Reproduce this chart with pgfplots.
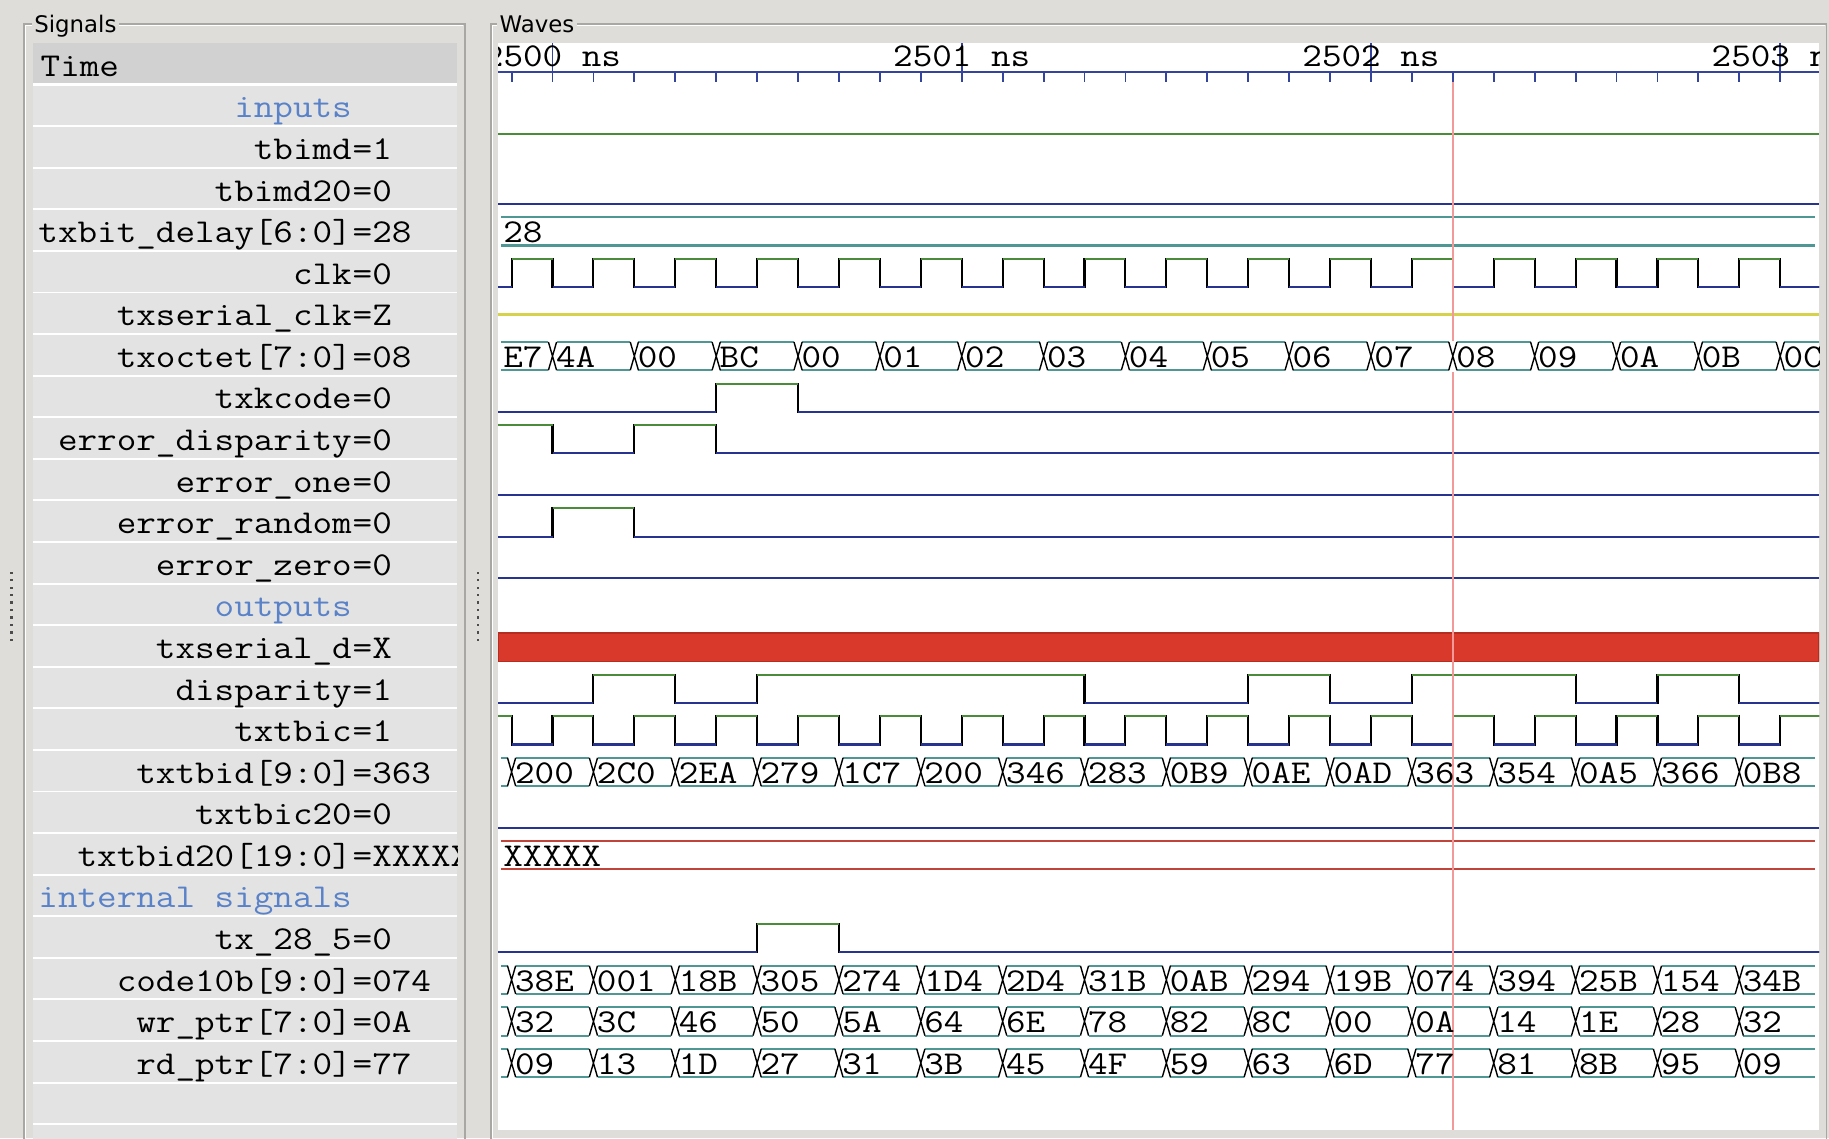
\documentclass[border=0pt]{standalone}
\usepackage{fontspec}
\usepackage{graphicx}
\usepackage{pgfplots}
\pgfplotsset{compat=1.18}
\newfontfamily\uisans{DejaVu Sans}

\definecolor{panelbg}{HTML}{DFDDD9}
\definecolor{rowbg}{HTML}{E3E3E3}
\definecolor{headbg}{HTML}{D1D1D1}
\definecolor{framec}{HTML}{A9A7A3}
\definecolor{grpblue}{HTML}{5A82C8}
\definecolor{hi}{HTML}{4A8C3A}
\definecolor{lo}{HTML}{26348F}
\definecolor{bus}{HTML}{4F9794}
\definecolor{xfill}{HTML}{D9392A}
\definecolor{xedge}{HTML}{B52C20}
\definecolor{xbus}{HTML}{C0443A}
\definecolor{zline}{HTML}{D6D24C}
\definecolor{ruler}{HTML}{34449C}
\definecolor{cursorc}{HTML}{F29A9A}

% monospaced wave font, widened to the gtkwave cell
\newcommand\wt[1]{\scalebox{1.14}[1]{\fontsize{14.3}{17}\selectfont\ttfamily #1}}

% bus crossing: blank the bus lines, then draw the X
\pgfdeclareplotmark{busx}{%
  \pgfpathrectangle{\pgfpoint{-1.75pt}{-6.6pt}}{\pgfpoint{3.5pt}{13.2pt}}%
  \pgfsetfillcolor{white}\pgfusepath{fill}%
  \pgfsetstrokecolor{black}%
  \pgfpathmoveto{\pgfpoint{-1.75pt}{6.06pt}}\pgfpathlineto{\pgfpoint{1.75pt}{-6.06pt}}%
  \pgfpathmoveto{\pgfpoint{-1.75pt}{-6.06pt}}\pgfpathlineto{\pgfpoint{1.75pt}{6.06pt}}%
  \pgfusepathqstroke}

\pgfplotsset{
  wave/.style={line width=0.9pt},
  busline/.style={bus, line width=0.9pt},
  buslab/.style={black, nodes near coords={\wt{\pgfplotspointmeta}},
    point meta=explicit symbolic,
    nodes near coords style={anchor=base west, inner sep=0pt, xshift=1.2pt, yshift=-4.8pt, text=black}},
  busmarks/.style={buslab, only marks, mark=busx, mark options={line width=0.6pt}},
}

% bus values: time of change, lane, new value
\pgfplotstableread{
t y lab
2500.0 6.98 4A
2500.2 6.98 00
2500.4 6.98 BC
2500.6 6.98 00
2500.8 6.98 01
2501.0 6.98 02
2501.2 6.98 03
2501.4 6.98 04
2501.6 6.98 05
2501.8 6.98 06
2502.0 6.98 07
2502.2 6.98 08
2502.4 6.98 09
2502.6 6.98 0A
2502.8 6.98 0B
2503.0 6.98 0C
}\txoctet

\pgfplotstableread{
t y lab
2499.9 16.98 200
2500.1 16.98 2C0
2500.3 16.98 2EA
2500.5 16.98 279
2500.7 16.98 1C7
2500.9 16.98 200
2501.1 16.98 346
2501.3 16.98 283
2501.5 16.98 0B9
2501.7 16.98 0AE
2501.9 16.98 0AD
2502.1 16.98 363
2502.3 16.98 354
2502.5 16.98 0A5
2502.7 16.98 366
2502.9 16.98 0B8
}\txtbid

\pgfplotstableread{
t y lab
2499.9 21.98 38E
2500.1 21.98 001
2500.3 21.98 18B
2500.5 21.98 305
2500.7 21.98 274
2500.9 21.98 1D4
2501.1 21.98 2D4
2501.3 21.98 31B
2501.5 21.98 0AB
2501.7 21.98 294
2501.9 21.98 19B
2502.1 21.98 074
2502.3 21.98 394
2502.5 21.98 25B
2502.7 21.98 154
2502.9 21.98 34B
}\codeb

\pgfplotstableread{
t y lab
2499.9 22.98 32
2500.1 22.98 3C
2500.3 22.98 46
2500.5 22.98 50
2500.7 22.98 5A
2500.9 22.98 64
2501.1 22.98 6E
2501.3 22.98 78
2501.5 22.98 82
2501.7 22.98 8C
2501.9 22.98 00
2502.1 22.98 0A
2502.3 22.98 14
2502.5 22.98 1E
2502.7 22.98 28
2502.9 22.98 32
}\wrptr

\pgfplotstableread{
t y lab
2499.9 23.98 09
2500.1 23.98 13
2500.3 23.98 1D
2500.5 23.98 27
2500.7 23.98 31
2500.9 23.98 3B
2501.1 23.98 45
2501.3 23.98 4F
2501.5 23.98 59
2501.7 23.98 63
2501.9 23.98 6D
2502.1 23.98 77
2502.3 23.98 81
2502.5 23.98 8B
2502.7 23.98 95
2502.9 23.98 09
}\rdptr

\newcommand\sig[3]{%
  \node[anchor=base east, inner sep=0pt] at (302,{56.45+35.65*(#1+0.25)}) {\wt{#2}};
  \node[anchor=base west, inner sep=0pt] at (302,{56.45+35.65*(#1+0.25)}) {\wt{=#3}};}
\newcommand\grp[2]{%
  \node[anchor=base east, inner sep=0pt, text=grpblue] at (302,{56.45+35.65*(#1+0.25)}) {\wt{#2}};}

\begin{document}
\begin{tikzpicture}
\begin{scope}[x=0.5pt, y=-0.5pt]
  \fill[panelbg] (0,0) rectangle (1568,976);
  % frames
  \draw[framec, line width=0.6pt] (20.5,990) -- (20.5,20.6) -- (398.5,20.6) -- (398.5,990);
  \draw[white, line width=0.6pt] (21.8,990) -- (21.8,21.9) -- (397.2,21.9);
  \draw[framec, line width=0.6pt] (421,990) -- (421,20.6) -- (1566,20.6) -- (1566,990);
  \draw[white, line width=0.6pt] (422.3,990) -- (422.3,21.9) -- (1564.7,21.9);
  \node[anchor=base west, fill=panelbg, inner xsep=1pt, inner ysep=1pt, font=\uisans\fontsize{9.8}{11}\selectfont] at (27,28) {Signals};
  \node[anchor=base west, fill=panelbg, inner xsep=1pt, inner ysep=1pt, font=\uisans\fontsize{9.8}{11}\selectfont] at (426,28) {Waves};
  % splitter handles
  \foreach \k in {0,...,9} {
    \fill[black!70] (9,{490+6.4*\k}) rectangle (11,{492+6.4*\k});
    \fill[black!70] (408.5,{490+6.4*\k}) rectangle (410.5,{492+6.4*\k});
  }
  % signal list
  \fill[white] (28,37.2) rectangle (392,990);
  \fill[headbg] (28,37.2) rectangle (392,71.2);
  \foreach \r in {1,...,26}
    \fill[rowbg] (28,{56.45+35.65*(\r-0.55)+0.8}) rectangle (392,{56.45+35.65*(\r+0.45)-0.8});
  \begin{scope}
    \clip (28,37.2) rectangle (392,976);
    \node[anchor=base west, inner sep=0pt] at (34.5,{56.45+35.65*0.25}) {\wt{Time}};
    \grp{1}{inputs}
    \sig{2}{tbimd}{1}
    \sig{3}{tbimd20}{0}
    \sig{4}{txbit\_delay[6:0]}{28}
    \sig{5}{clk}{0}
    \sig{6}{txserial\_clk}{Z}
    \sig{7}{txoctet[7:0]}{08}
    \sig{8}{txkcode}{0}
    \sig{9}{error\_disparity}{0}
    \sig{10}{error\_one}{0}
    \sig{11}{error\_random}{0}
    \sig{12}{error\_zero}{0}
    \grp{13}{outputs}
    \sig{14}{txserial\_d}{X}
    \sig{15}{disparity}{1}
    \sig{16}{txtbic}{1}
    \sig{17}{txtbid[9:0]}{363}
    \sig{18}{txtbic20}{0}
    \sig{19}{txtbid20[19:0]}{XXXXX}
    \grp{20}{internal signals}
    \sig{21}{tx\_28\_5}{0}
    \sig{22}{code10b[9:0]}{074}
    \sig{23}{wr\_ptr[7:0]}{0A}
    \sig{24}{rd\_ptr[7:0]}{77}
  \end{scope}
  % wave area
  \fill[white] (427,37.2) rectangle (1559.5,968.7);
\end{scope}

\begin{scope}
\clip (213.5pt,-18.6pt) rectangle (779.75pt,-484.35pt);
\begin{axis}[
  at={(213.5pt,-18.6pt)}, anchor=north west,
  scale only axis, width=566.25pt, height=465.75pt,
  xmin=2499.867, xmax=2503.095,
  ymin=-0.54, ymax=25.59, y dir=reverse,
  axis line style={draw=none},
  ytick=\empty,
  xtick={2500,2501,2502,2503},
  xticklabels={\wt{2500 ns},\wt{2501 ns},\wt{2502 ns},\wt{2503 ns}},
  minor xtick={2499.9,2500,...,2503},
  xtick pos=right, xticklabel pos=right,
  tick align=inside,
  major tick length=16.4pt,
  minor tick length=4.3pt,
  tick style={ruler, line width=0.8pt},
  minor tick style={yshift=-12.1pt},
  xticklabel style={anchor=base, yshift=-9.98pt, inner sep=0pt},
  unbounded coords=jump,
]
% time ruler
\addplot[ruler, line width=0.8pt] coordinates {(2499.867,0.14) (2503.095,0.14)};

% tbimd = 1, tbimd20 = 0
\addplot[wave, hi] coordinates {(2499.867,1.64) (2503.095,1.64)};
\addplot[wave, lo] coordinates {(2499.867,3.32) (2503.095,3.32)};

% txbit_delay[6:0] = 28
\addplot[busline] coordinates {(2499.875,3.64) (2503.085,3.64) (2503.085,nan) (2499.875,4.32) (2503.085,4.32)};
\addplot[buslab, draw=none] coordinates {(2499.872,3.98) [28]};

% clk
\addplot[wave, black, const plot] coordinates {
  (2499.867,5.32) (2499.9,4.64) (2500.0,5.32) (2500.1,4.64) (2500.2,5.32) (2500.3,4.64)
  (2500.4,5.32) (2500.5,4.64) (2500.6,5.32) (2500.7,4.64) (2500.8,5.32) (2500.9,4.64)
  (2501.0,5.32) (2501.1,4.64) (2501.2,5.32) (2501.3,4.64) (2501.4,5.32) (2501.5,4.64)
  (2501.6,5.32) (2501.7,4.64) (2501.8,5.32) (2501.9,4.64) (2502.0,5.32) (2502.1,4.64)
  (2502.2,5.32) (2502.3,4.64) (2502.4,5.32) (2502.5,4.64) (2502.6,5.32) (2502.7,4.64)
  (2502.8,5.32) (2502.9,4.64) (2503.0,5.32) (2503.1,5.32)};
\addplot[wave, hi] coordinates {
  (2499.9,4.64) (2500.0,4.64) (2500.0,nan) (2500.1,4.64) (2500.2,4.64) (2500.2,nan)
  (2500.3,4.64) (2500.4,4.64) (2500.4,nan) (2500.5,4.64) (2500.6,4.64) (2500.6,nan)
  (2500.7,4.64) (2500.8,4.64) (2500.8,nan) (2500.9,4.64) (2501.0,4.64) (2501.0,nan)
  (2501.1,4.64) (2501.2,4.64) (2501.2,nan) (2501.3,4.64) (2501.4,4.64) (2501.4,nan)
  (2501.5,4.64) (2501.6,4.64) (2501.6,nan) (2501.7,4.64) (2501.8,4.64) (2501.8,nan)
  (2501.9,4.64) (2502.0,4.64) (2502.0,nan) (2502.1,4.64) (2502.2,4.64) (2502.2,nan)
  (2502.3,4.64) (2502.4,4.64) (2502.4,nan) (2502.5,4.64) (2502.6,4.64) (2502.6,nan)
  (2502.7,4.64) (2502.8,4.64) (2502.8,nan) (2502.9,4.64) (2503.0,4.64)};
\addplot[wave, lo] coordinates {
  (2499.867,5.32) (2499.9,5.32) (2499.9,nan) (2500.0,5.32) (2500.1,5.32) (2500.1,nan)
  (2500.2,5.32) (2500.3,5.32) (2500.3,nan) (2500.4,5.32) (2500.5,5.32) (2500.5,nan)
  (2500.6,5.32) (2500.7,5.32) (2500.7,nan) (2500.8,5.32) (2500.9,5.32) (2500.9,nan)
  (2501.0,5.32) (2501.1,5.32) (2501.1,nan) (2501.2,5.32) (2501.3,5.32) (2501.3,nan)
  (2501.4,5.32) (2501.5,5.32) (2501.5,nan) (2501.6,5.32) (2501.7,5.32) (2501.7,nan)
  (2501.8,5.32) (2501.9,5.32) (2501.9,nan) (2502.0,5.32) (2502.1,5.32) (2502.1,nan)
  (2502.2,5.32) (2502.3,5.32) (2502.3,nan) (2502.4,5.32) (2502.5,5.32) (2502.5,nan)
  (2502.6,5.32) (2502.7,5.32) (2502.7,nan) (2502.8,5.32) (2502.9,5.32) (2502.9,nan)
  (2503.0,5.32) (2503.1,5.32)};

% txserial_clk = Z
\addplot[wave, zline] coordinates {(2499.867,5.98) (2503.095,5.98)};

% txoctet[7:0]
\addplot[busline] coordinates {(2499.875,6.64) (2503.1,6.64) (2503.1,nan) (2499.875,7.32) (2503.1,7.32)};
\addplot[buslab, draw=none] coordinates {(2499.872,6.98) [E7]};
\addplot[busmarks] table[x=t, y=y, meta=lab] {\txoctet};

% txkcode
\addplot[wave, black, const plot] coordinates {(2499.867,8.32) (2500.4,7.64) (2500.6,8.32) (2503.1,8.32)};
\addplot[wave, hi] coordinates {(2500.4,7.64) (2500.6,7.64)};
\addplot[wave, lo] coordinates {(2499.867,8.32) (2500.4,8.32) (2500.4,nan) (2500.6,8.32) (2503.1,8.32)};

% error_disparity
\addplot[wave, black, const plot] coordinates {(2499.867,8.64) (2500.0,9.32) (2500.2,8.64) (2500.4,9.32) (2503.1,9.32)};
\addplot[wave, hi] coordinates {(2499.867,8.64) (2500.0,8.64) (2500.0,nan) (2500.2,8.64) (2500.4,8.64)};
\addplot[wave, lo] coordinates {(2500.0,9.32) (2500.2,9.32) (2500.2,nan) (2500.4,9.32) (2503.1,9.32)};

% error_one
\addplot[wave, lo] coordinates {(2499.867,10.32) (2503.095,10.32)};

% error_random
\addplot[wave, black, const plot] coordinates {(2499.867,11.32) (2500.0,10.64) (2500.2,11.32) (2503.1,11.32)};
\addplot[wave, hi] coordinates {(2500.0,10.64) (2500.2,10.64)};
\addplot[wave, lo] coordinates {(2499.867,11.32) (2500.0,11.32) (2500.0,nan) (2500.2,11.32) (2503.1,11.32)};

% error_zero
\addplot[wave, lo] coordinates {(2499.867,12.32) (2503.095,12.32)};

% txserial_d = X
\addplot[fill=xfill, draw=xedge, line width=0.6pt] coordinates {(2499.867,13.64) (2503.095,13.64) (2503.095,14.32) (2499.867,14.32) (2499.867,13.64)};

% disparity
\addplot[wave, black, const plot] coordinates {
  (2499.867,15.32) (2500.1,14.64) (2500.3,15.32) (2500.5,14.64) (2501.3,15.32) (2501.7,14.64)
  (2501.9,15.32) (2502.1,14.64) (2502.5,15.32) (2502.7,14.64) (2502.9,15.32) (2503.1,15.32)};
\addplot[wave, hi] coordinates {
  (2500.1,14.64) (2500.3,14.64) (2500.3,nan) (2500.5,14.64) (2501.3,14.64) (2501.3,nan)
  (2501.7,14.64) (2501.9,14.64) (2501.9,nan) (2502.1,14.64) (2502.5,14.64) (2502.5,nan)
  (2502.7,14.64) (2502.9,14.64)};
\addplot[wave, lo] coordinates {
  (2499.867,15.32) (2500.1,15.32) (2500.1,nan) (2500.3,15.32) (2500.5,15.32) (2500.5,nan)
  (2501.3,15.32) (2501.7,15.32) (2501.7,nan) (2501.9,15.32) (2502.1,15.32) (2502.1,nan)
  (2502.5,15.32) (2502.7,15.32) (2502.7,nan) (2502.9,15.32) (2503.1,15.32)};

% txtbic
\addplot[wave, black, const plot] coordinates {
  (2499.867,15.64) (2499.9,16.32) (2500.0,15.64) (2500.1,16.32) (2500.2,15.64) (2500.3,16.32)
  (2500.4,15.64) (2500.5,16.32) (2500.6,15.64) (2500.7,16.32) (2500.8,15.64) (2500.9,16.32)
  (2501.0,15.64) (2501.1,16.32) (2501.2,15.64) (2501.3,16.32) (2501.4,15.64) (2501.5,16.32)
  (2501.6,15.64) (2501.7,16.32) (2501.8,15.64) (2501.9,16.32) (2502.0,15.64) (2502.1,16.32)
  (2502.2,15.64) (2502.3,16.32) (2502.4,15.64) (2502.5,16.32) (2502.6,15.64) (2502.7,16.32)
  (2502.8,15.64) (2502.9,16.32) (2503.0,15.64) (2503.1,15.64)};
\addplot[wave, hi] coordinates {
  (2499.867,15.64) (2499.9,15.64) (2499.9,nan) (2500.0,15.64) (2500.1,15.64) (2500.1,nan)
  (2500.2,15.64) (2500.3,15.64) (2500.3,nan) (2500.4,15.64) (2500.5,15.64) (2500.5,nan)
  (2500.6,15.64) (2500.7,15.64) (2500.7,nan) (2500.8,15.64) (2500.9,15.64) (2500.9,nan)
  (2501.0,15.64) (2501.1,15.64) (2501.1,nan) (2501.2,15.64) (2501.3,15.64) (2501.3,nan)
  (2501.4,15.64) (2501.5,15.64) (2501.5,nan) (2501.6,15.64) (2501.7,15.64) (2501.7,nan)
  (2501.8,15.64) (2501.9,15.64) (2501.9,nan) (2502.0,15.64) (2502.1,15.64) (2502.1,nan)
  (2502.2,15.64) (2502.3,15.64) (2502.3,nan) (2502.4,15.64) (2502.5,15.64) (2502.5,nan)
  (2502.6,15.64) (2502.7,15.64) (2502.7,nan) (2502.8,15.64) (2502.9,15.64) (2502.9,nan)
  (2503.0,15.64) (2503.1,15.64)};
\addplot[wave, lo] coordinates {
  (2499.9,16.32) (2500.0,16.32) (2500.0,nan) (2500.1,16.32) (2500.2,16.32) (2500.2,nan)
  (2500.3,16.32) (2500.4,16.32) (2500.4,nan) (2500.5,16.32) (2500.6,16.32) (2500.6,nan)
  (2500.7,16.32) (2500.8,16.32) (2500.8,nan) (2500.9,16.32) (2501.0,16.32) (2501.0,nan)
  (2501.1,16.32) (2501.2,16.32) (2501.2,nan) (2501.3,16.32) (2501.4,16.32) (2501.4,nan)
  (2501.5,16.32) (2501.6,16.32) (2501.6,nan) (2501.7,16.32) (2501.8,16.32) (2501.8,nan)
  (2501.9,16.32) (2502.0,16.32) (2502.0,nan) (2502.1,16.32) (2502.2,16.32) (2502.2,nan)
  (2502.3,16.32) (2502.4,16.32) (2502.4,nan) (2502.5,16.32) (2502.6,16.32) (2502.6,nan)
  (2502.7,16.32) (2502.8,16.32) (2502.8,nan) (2502.9,16.32) (2503.0,16.32)};

% txtbid[9:0]
\addplot[busline] coordinates {(2499.875,16.64) (2503.085,16.64) (2503.085,nan) (2499.875,17.32) (2503.085,17.32)};
\addplot[busmarks] table[x=t, y=y, meta=lab] {\txtbid};

% txtbic20
\addplot[wave, lo] coordinates {(2499.867,18.32) (2503.095,18.32)};

% txtbid20[19:0] = XXXXX
\addplot[wave, xbus] coordinates {(2499.875,18.64) (2503.085,18.64) (2503.085,nan) (2499.875,19.32) (2503.085,19.32)};
\addplot[buslab, draw=none] coordinates {(2499.872,18.98) [XXXXX]};

% tx_28_5
\addplot[wave, black, const plot] coordinates {(2499.867,21.32) (2500.5,20.64) (2500.7,21.32) (2503.1,21.32)};
\addplot[wave, hi] coordinates {(2500.5,20.64) (2500.7,20.64)};
\addplot[wave, lo] coordinates {(2499.867,21.32) (2500.5,21.32) (2500.5,nan) (2500.7,21.32) (2503.1,21.32)};

% code10b[9:0], wr_ptr[7:0], rd_ptr[7:0]
\addplot[busline] coordinates {(2499.875,21.64) (2503.085,21.64) (2503.085,nan) (2499.875,22.32) (2503.085,22.32)};
\addplot[busmarks] table[x=t, y=y, meta=lab] {\codeb};
\addplot[busline] coordinates {(2499.875,22.64) (2503.085,22.64) (2503.085,nan) (2499.875,23.32) (2503.085,23.32)};
\addplot[busmarks] table[x=t, y=y, meta=lab] {\wrptr};
\addplot[busline] coordinates {(2499.875,23.64) (2503.085,23.64) (2503.085,nan) (2499.875,24.32) (2503.085,24.32)};
\addplot[busmarks] table[x=t, y=y, meta=lab] {\rdptr};

% cursor
\addplot[cursorc, line width=0.6pt] coordinates {(2502.2,0.38) (2502.2,25.59)};
\end{axis}
\end{scope}

\pgfresetboundingbox
\path[use as bounding box] (0pt,0pt) rectangle (784pt,-488pt);
\end{tikzpicture}
\end{document}
